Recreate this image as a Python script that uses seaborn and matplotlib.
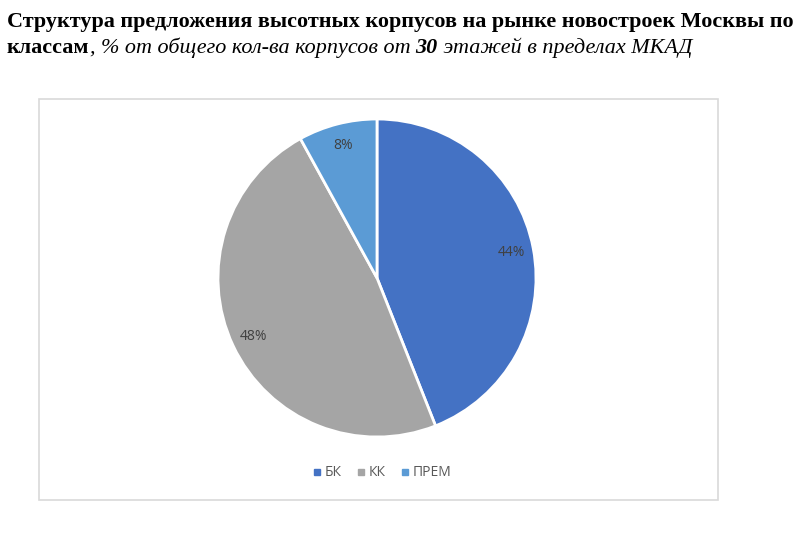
import matplotlib
matplotlib.use("Agg")
import matplotlib.pyplot as plt
import seaborn as sns
from matplotlib.patches import Rectangle
from matplotlib.lines import Line2D

categories = ["БК", "КК", "ПРЕМ"]
values = [44, 48, 8]
colors = ["#4472C4", "#A5A5A5", "#5B9BD5"]
title_line1 = "Структура предложения высотных корпусов на рынке новостроек Москвы по"
title_line2 = [("классам", "bold", "normal"),
               (", % от общего кол-ва корпусов от ", "normal", "italic"),
               ("30", "bold", "italic"),
               (" этажей в пределах МКАД", "normal", "italic")]

sns.set_theme(style="white")
plt.rcParams['font.family'] = ['Open Sans', 'DejaVu Sans']

W, H = 800, 534
fig = plt.figure(figsize=(8, 5.34), dpi=100)
fig.patch.set_facecolor("white")

# chart border
fig.patches.append(Rectangle((39 / W, 1 - 500 / H), (718 - 39) / W, (500 - 99) / H,
                             transform=fig.transFigure, fill=False,
                             edgecolor="#D9D9D9", linewidth=1.2))

# title
serif = ['Liberation Serif', 'DejaVu Serif']
fs = 15.9
fig.text(7 / W, 1 - 22 / H, title_line1, family=serif, weight="bold", fontsize=fs,
         va="center", ha="left", color="black")
renderer = fig.canvas.get_renderer()
x = 7
for txt, wt, st in title_line2:
    t = fig.text(x / W, 1 - 48 / H, txt, family=serif, weight=wt, style=st,
                 fontsize=fs, va="center", ha="left", color="black")
    bb = t.get_window_extent(renderer=renderer)
    x += bb.width

# pie
cx, cy, r = 377, 278, 159
ax = fig.add_axes([(cx - r) / W, (H - cy - r) / H, 2 * r / W, 2 * r / H])
wedges, texts, autotexts = ax.pie(values, colors=colors, startangle=90, counterclock=False,
                                  autopct="%d%%", pctdistance=0.86,
                                  wedgeprops=dict(edgecolor="white", linewidth=2),
                                  textprops=dict(color="#404040", fontsize=10))
ax.set_xlim(-1, 1)
ax.set_ylim(-1, 1)
ax.axis("off")

handles = [Line2D([0], [0], marker="s", linestyle="", markersize=5,
                  markerfacecolor=c, markeredgecolor=c) for c in colors]
fig.legend(handles, categories, loc="center", bbox_to_anchor=(381 / W, 1 - 473 / H),
           ncol=3, frameon=False, fontsize=10, labelcolor="#595959",
           handletextpad=0.15, columnspacing=1.0, handlelength=0.8)

fig.savefig("out.png", dpi=100)
